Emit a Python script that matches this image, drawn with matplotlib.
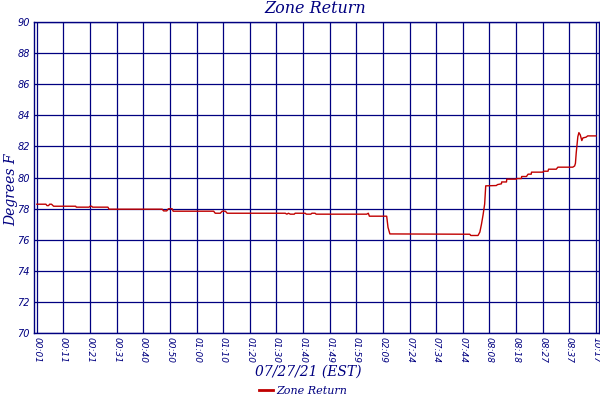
import matplotlib
matplotlib.use("Agg")
import matplotlib.pyplot as plt
from matplotlib.lines import Line2D

NAVY = "#000080"
RED = "#c00000"

# x tick labels, one every 10 samples
tick_labels = ["00:01", "00:11", "00:21", "00:31", "00:40", "00:50", "01:00",
               "01:10", "01:20", "01:30", "01:40", "01:49", "01:59", "02:09",
               "07:24", "07:34", "07:44", "08:08", "08:18", "08:27", "08:37",
               "10:17"]
tick_pos = [i * 10 for i in range(len(tick_labels))]

# sample index and zone return temperature (deg F)
sample = [0, 3.4, 3.8, 4.4, 4.8, 5.5, 6.3, 14.6, 14.8, 19.6, 20.0, 20.6, 20.9,
          26.7, 27.1, 47.1, 47.6, 48.8, 49.4, 50.8, 51.2, 66.4, 67.0, 68.9,
          69.6, 70.8, 71.5, 93.3, 93.9, 94.5, 95.2, 96.7, 97.0, 100.8, 101.2,
          102.9, 103.3, 104.5, 104.9, 123.9, 124.5, 124.9, 131.4, 131.9, 132.6,
          162.6, 163.0, 165.7, 166.4, 167.0, 167.6, 168.2, 168.6, 172.6, 173.0,
          174.5, 174.6, 176.4, 176.5, 180.1, 180.2, 182.0, 182.1, 183.9, 184.5,
          185.7, 185.8, 190.1, 190.3, 192.0, 192.2, 195.1, 195.7, 201.3, 202.0,
          202.3, 202.6, 203.2, 203.6, 204.1, 204.7, 205.1, 206.3, 206.9, 210.0]
temp = [78.29, 78.29, 78.2, 78.2, 78.29, 78.29, 78.16, 78.16, 78.1, 78.1, 78.16,
        78.16, 78.1, 78.1, 77.97, 77.97, 77.86, 77.86, 78.0, 78.0, 77.84, 77.84,
        77.71, 77.71, 77.84, 77.84, 77.71, 77.71, 77.65, 77.71, 77.65, 77.65,
        77.71, 77.71, 77.65, 77.65, 77.71, 77.71, 77.65, 77.65, 77.71, 77.52,
        77.52, 76.8, 76.38, 76.36, 76.28, 76.28, 76.5, 77.0, 77.6, 78.3, 79.47,
        79.49, 79.55, 79.6, 79.72, 79.72, 79.9, 79.9, 79.94, 79.94, 80.07, 80.07,
        80.22, 80.22, 80.35, 80.35, 80.41, 80.41, 80.54, 80.54, 80.67, 80.67,
        80.75, 80.92, 81.6, 82.63, 82.89, 82.75, 82.38, 82.55, 82.6, 82.68, 82.68]

y_ticks = list(range(70, 91, 2))

fig = plt.figure(figsize=(6, 4), dpi=100)
ax = fig.add_axes([0.057, 0.167, 0.942, 0.778])

ax.plot(sample, temp, color=RED, lw=1.0, zorder=3)

ax.set_xlim(-1.0, 211.3)
ax.set_ylim(70, 90)
ax.set_xticks(tick_pos)
ax.set_xticklabels(tick_labels, rotation=-90, fontsize=6.5, style="italic",
                   color=NAVY)
ax.set_yticks(y_ticks)
ax.set_yticklabels([str(v) for v in y_ticks], fontsize=7, style="italic",
                   color=NAVY)
ax.tick_params(length=0, pad=3)
ax.grid(True, color=NAVY, lw=0.9, zorder=1)
for s in ax.spines.values():
    s.set_color(NAVY)
    s.set_linewidth(1.0)

serif = ["DejaVu Serif"]
fig.text(0.525, 0.978, "Zone Return", ha="center", va="center", fontsize=11.5,
         style="italic", family=serif, color=NAVY)
fig.text(0.018, 0.525, "Degrees F", ha="center", va="center", rotation=90,
         fontsize=10, style="italic", family=serif, color=NAVY)
fig.text(0.513, 0.07, "07/27/21 (EST)", ha="center", va="center",
         fontsize=10, style="italic", family=serif, color=NAVY)

handle = Line2D([], [], color=RED, lw=2)
leg = fig.legend([handle], ["Zone Return"], loc="center",
                 bbox_to_anchor=(0.505, 0.022), frameon=False, fontsize=8,
                 handlelength=1.3, handletextpad=0.3)
for t in leg.get_texts():
    t.set_color(NAVY)
    t.set_style("italic")
    t.set_family(serif)

fig.savefig("out.png", dpi=100, facecolor="white")
